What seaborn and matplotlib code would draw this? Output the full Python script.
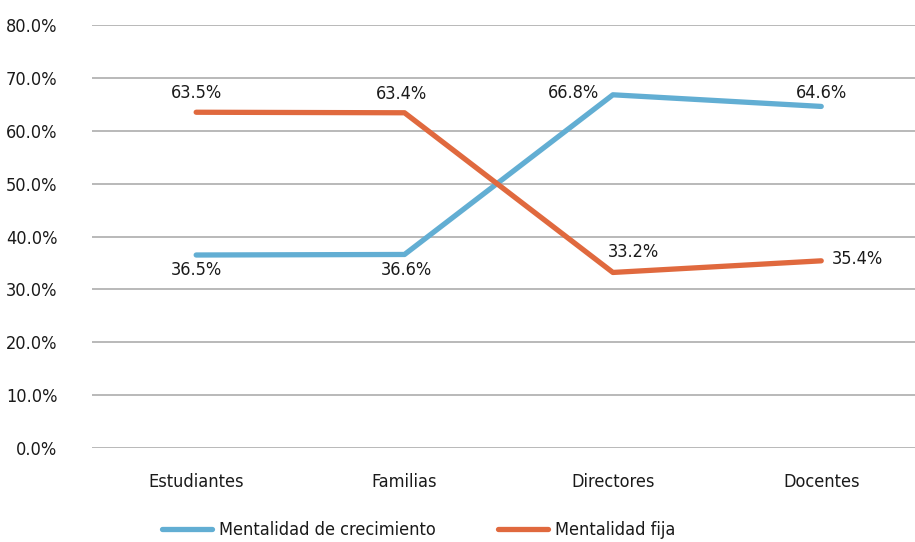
import matplotlib
matplotlib.use("Agg")
import matplotlib.pyplot as plt
import pandas as pd
import seaborn as sns

# Data
categories = ["Estudiantes", "Familias", "Directores", "Docentes"]
crecimiento = [36.5, 36.6, 66.8, 64.6]
fija = [63.5, 63.4, 33.2, 35.4]
series_names = ["Mentalidad de crecimiento", "Mentalidad fija"]

df = pd.DataFrame({
    "x": list(range(len(categories))) * 2,
    "valor": [v / 100 for v in crecimiento + fija],
    "serie": [series_names[0]] * 4 + [series_names[1]] * 4,
})

sns.set_style("white")
plt.rcParams["font.family"] = ["DejaVu Sans"]
plt.rcParams["font.stretch"] = "condensed"
plt.rcParams["text.color"] = "#1a1a1a"
plt.rcParams["xtick.color"] = "#1a1a1a"
plt.rcParams["ytick.color"] = "#1a1a1a"

colors = {series_names[0]: "#62AED3", series_names[1]: "#E0693E"}

fig = plt.figure(figsize=(9.15, 5.42), dpi=100)
ax = fig.add_axes([92 / 915, 1 - 448 / 542, 1 - 92 / 915, (448 - 25) / 542])

sns.lineplot(data=df, x="x", y="valor", hue="serie", palette=colors,
             linewidth=3.8, ax=ax, legend=True, solid_capstyle="round")

fs = 13
ax.set_ylim(0, 0.8)
ax.set_xlim(-0.5, 3.45)
ax.set_yticks([i / 10 for i in range(9)])
ax.set_yticklabels([f"{i * 10:.1f}%" for i in range(9)], fontsize=fs)
ax.set_xticks(range(len(categories)))
ax.set_xticklabels(categories, fontsize=fs)
ax.tick_params(axis="y", length=0, pad=25)
ax.tick_params(axis="x", length=0, pad=18)
ax.yaxis.grid(True, color="#A6A6A6", linewidth=1.1)
ax.set_axisbelow(True)
for s in ax.spines.values():
    s.set_visible(False)
ax.set_xlabel("")
ax.set_ylabel("")

# Data labels (offsets in points)
offsets_crec = [(0, -11), (1.5, -11), (-28, 1.5), (0, 10)]
offsets_fija = [(0, 13.7), (-2, 13.7), (15, 14.4), (26, 1.5)]
for i, v in enumerate(crecimiento):
    ax.annotate(f"{v:.1f}%", (i, v / 100), xytext=offsets_crec[i],
                textcoords="offset points", ha="center", va="center", fontsize=fs)
for i, v in enumerate(fija):
    ax.annotate(f"{v:.1f}%", (i, v / 100), xytext=offsets_fija[i],
                textcoords="offset points", ha="center", va="center", fontsize=fs)

handles, labels = ax.get_legend_handles_labels()
ax.legend(handles, labels, loc="upper center", bbox_to_anchor=(0.397, -0.135),
          ncol=2, frameon=False, fontsize=fs, handlelength=2.8,
          columnspacing=3.4, handletextpad=0.4)

fig.savefig("out.png", dpi=100)
